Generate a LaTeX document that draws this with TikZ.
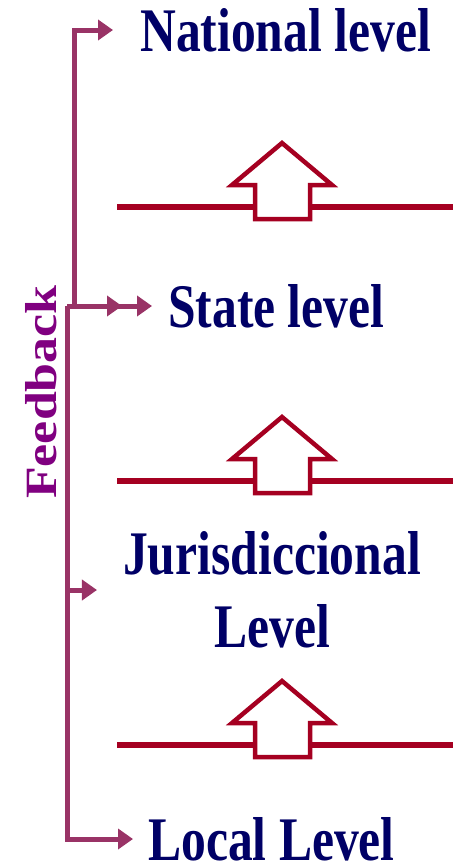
\documentclass[tikz,border=0pt]{standalone}
\usepackage{fontspec}
\usepackage{graphicx}
\usepackage{tikz}
\usetikzlibrary{arrows.meta}
\newfontfamily\lvlfont{Liberation Serif}[FakeStretch=0.8]
\newfontfamily\fbfont{Liberation Serif}
\definecolor{lvlblue}{RGB}{0,0,102}
\definecolor{fbplum}{RGB}{153,51,102}
\definecolor{fbpurple}{RGB}{128,0,128}
\definecolor{upred}{RGB}{165,0,33}

\begin{document}
\begin{tikzpicture}[x=1pt,y=-1pt,
  lvl/.style={text=lvlblue,inner sep=0pt,font=\lvlfont\bfseries\fontsize{62}{73}\selectfont},
  fb/.style={draw=fbplum,line width=5pt,-{Triangle[length=15pt,width=20pt]}},
  redline/.style={draw=upred,line width=6pt},
  uparrow/.style={draw=upred,fill=white,line width=4.5pt}]
  \useasboundingbox (0,0) rectangle (453,865);

  \node [lvl,anchor=west] (national) at (140,30) {National level};
  \node [lvl,anchor=west] (state) at (168,306) {State level};
  \node [lvl,align=center] (juris) at (272,590) {Jurisdiccional\\Level};
  \node [lvl,anchor=west] (local) at (148,839) {Local Level};

  \node [rotate=90,text=fbpurple,inner sep=0pt] (feedback) at (41,392)
    {\scalebox{1}[0.86]{\fbfont\bfseries\fontsize{52}{54}\selectfont Feedback}};

  % red lines with hollow arrows between levels
  \foreach \y in {207,481,745} {
    \draw [redline] (117,\y) -- (453,\y);
    \draw [uparrow] (255,\y+12) -- (255,\y-22) -- (232,\y-22) -- (282,\y-64)
      -- (332,\y-22) -- (310,\y-22) -- (310,\y+12) -- cycle;
  }

  % feedback lines
  \coordinate (fbtop) at (74,306);
  \coordinate (fbbot) at (67,306);
  \draw [fb,shorten >=27pt] (fbtop) |- (national.west);
  \draw [fb,shorten >=46pt] (fbbot) -- (state.west);
  \draw [fb,shorten >=16pt] (fbbot) -- (state.west);
  \draw [fb,shorten >=26pt] (fbbot |- juris.west) -- (juris.west);
  \draw [fb,shorten >=15pt] (fbbot) |- (local.west);
\end{tikzpicture}
\end{document}
